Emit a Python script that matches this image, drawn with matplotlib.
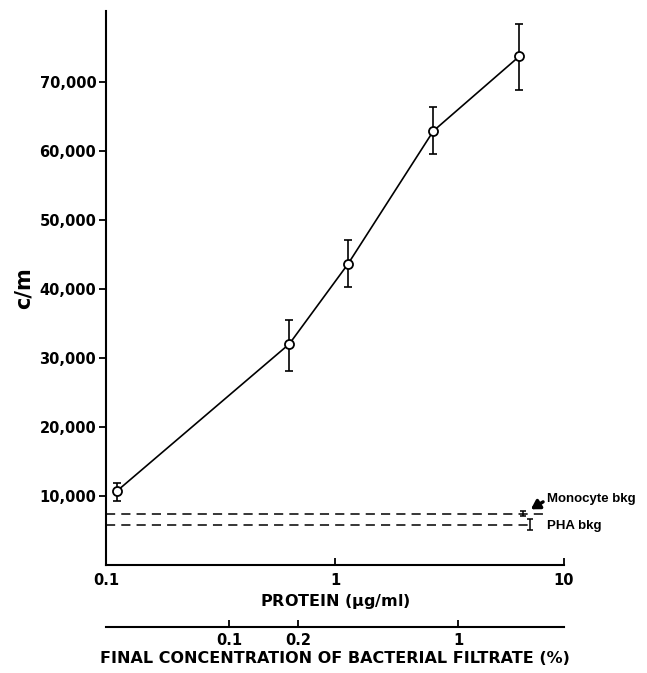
import numpy as np
import matplotlib
matplotlib.use("Agg")
from matplotlib import pyplot as plt

# protein (ug/ml) vs counts per minute
protein = [0.112, 0.632, 1.14, 2.69, 6.37]
cpm = [10700, 32000, 43600, 62900, 73700]
err_lo = [1500, 4000, 3400, 3400, 4900]
err_hi = [1100, 3400, 3500, 3400, 4700]

mono_bkg = 7350
mono_err = 350
pha_bkg = 5800
pha_err = 750
bkg_x = [6.6, 7.1]

ytick_vals = [10000, 20000, 30000, 40000, 50000, 60000, 70000]
ytick_labels = ['10,000', '20,000', '30,000', '40,000', '50,000', '60,000', '70,000']
xtick_vals = [0.1, 1, 10]
xtick_labels = ['0.1', '1', '10']
pct_ticks = [0.1, 0.2, 1]
pct_labels = ['0.1', '0.2', '1']
factor = 3.45  # ug/ml protein per % filtrate

plt.rcParams['font.family'] = ['DejaVu Sans']
plt.rcParams['font.weight'] = 'bold'
plt.rcParams['mathtext.default'] = 'bf'

fig = plt.figure(figsize=(6.47, 6.73), dpi=100)
ax = fig.add_axes([0.1638, 0.1612, 0.7079, 0.8225])

ax.set_xscale('log')
ax.set_xlim(0.1, 10)
ax.set_ylim(0, 80300)

# background lines
ax.plot([0.1, 8.2], [mono_bkg, mono_bkg], 'k--', lw=1.1, dashes=(6, 4))
ax.plot([0.1, bkg_x[1]], [pha_bkg, pha_bkg], 'k--', lw=1.1, dashes=(6, 4))
ax.errorbar([bkg_x[0]], [mono_bkg], yerr=mono_err, fmt='none', ecolor='k', elinewidth=1.1, capsize=2.5, capthick=1.1)
ax.errorbar([bkg_x[1]], [pha_bkg], yerr=pha_err, fmt='none', ecolor='k', elinewidth=1.1, capsize=2.5, capthick=1.1)

ax.errorbar(protein, cpm, yerr=[err_lo, err_hi], fmt='none', ecolor='k', elinewidth=1.2, capsize=3, capthick=1.2, zorder=2)
ax.plot(protein, cpm, '-o', color='k', lw=1.2, markersize=6.5, markerfacecolor='white', markeredgewidth=1.3, zorder=3)

ax.annotate('', xy=(bkg_x[0] * 1.06, mono_bkg + 450), xytext=(8.3, 9300),
            arrowprops=dict(arrowstyle='-|>,head_length=0.5,head_width=0.3', color='k', lw=2.4))
ax.text(8.45, 9500, 'Monocyte bkg', fontsize=9.5, fontweight='bold', va='center', ha='left',
        family='Liberation Sans')
ax.text(8.45, pha_bkg - 200, 'PHA bkg', fontsize=9.5, fontweight='bold', va='center', ha='left',
        family='Liberation Sans')

for s in ['top', 'right']:
    ax.spines[s].set_visible(False)
for s in ['left', 'bottom']:
    ax.spines[s].set_linewidth(1.5)

ax.set_yticks(ytick_vals)
ax.set_yticklabels(ytick_labels, fontsize=10.5, fontweight='bold')
ax.set_xticks(xtick_vals)
ax.set_xticklabels(xtick_labels, fontsize=10.5, fontweight='bold')
ax.xaxis.set_minor_locator(matplotlib.ticker.NullLocator())
ax.tick_params(axis='y', direction='out', length=5, width=1.3, pad=2)
ax.tick_params(axis='x', direction='in', length=5, width=1.3, pad=6)

ax.set_ylabel('c/m', fontsize=15, fontweight='bold', labelpad=4)
ax.set_xlabel(r'PROTEIN ($\mu$g/ml)', fontsize=11.5, fontweight='bold', labelpad=3)

sec = ax.secondary_xaxis(-0.112, functions=(lambda x: x / factor, lambda x: x * factor))
sec.set_xticks(pct_ticks)
sec.set_xticklabels(pct_labels, fontsize=10.5, fontweight='bold')
sec.xaxis.set_minor_locator(matplotlib.ticker.NullLocator())
sec.spines['bottom'].set_linewidth(1.5)
sec.tick_params(axis='x', direction='in', length=5, width=1.3, pad=5)
sec.set_xlabel('FINAL CONCENTRATION OF BACTERIAL FILTRATE (%)', fontsize=11.5, fontweight='bold', labelpad=2)

fig.savefig('out.png', dpi=100)
